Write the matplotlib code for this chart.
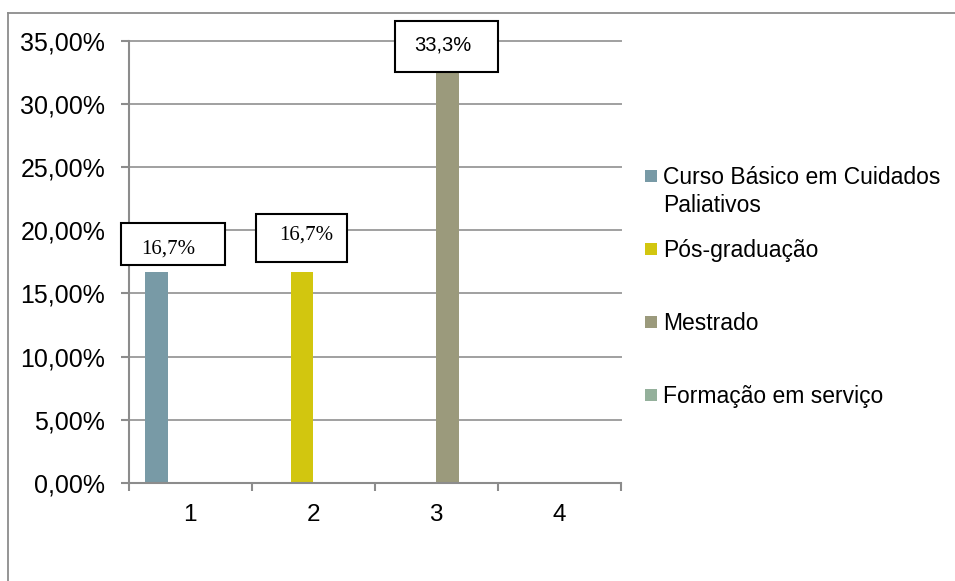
import matplotlib
matplotlib.use("Agg")
import matplotlib.pyplot as plt
import numpy as np
from matplotlib.lines import Line2D
from matplotlib.patches import Rectangle
from matplotlib.path import Path
from matplotlib.ticker import FixedLocator, FuncFormatter

# valores (%) por série, um por categoria
categorias = ["1", "2", "3", "4"]
curso_basico = [16.7, 0, 0, 0]
pos_graduacao = [0, 16.7, 0, 0]
mestrado = [0, 0, 33.3, 0]
formacao_servico = [0, 0, 0, 0]

series_nomes = [
    "Curso Básico em Cuidados\nPaliativos",
    "Pós-graduação",
    "Mestrado",
    "Formação em serviço",
]
series_valores = [curso_basico, pos_graduacao, mestrado, formacao_servico]
cores = ["#789aa6", "#d2c60f", "#9b9a7c", "#94b09b"]

W, H = 955, 581


def fx(x):
    return x / W


def fy(y):
    return 1 - y / H


def caixa(w, h, sx=0, sy=0):
    # moldura de tamanho fixo (px) em volta do rótulo
    def estilo(x0, y0, width, height, mutation_size):
        cx = x0 + width / 2 + sx
        cy = y0 + height / 2 + sy
        v = [(cx - w / 2, cy - h / 2), (cx + w / 2, cy - h / 2),
             (cx + w / 2, cy + h / 2), (cx - w / 2, cy + h / 2),
             (cx - w / 2, cy - h / 2)]
        return Path(v, closed=True)
    return estilo


# posição dos rótulos de dados: deslocamento do texto e da caixa (px)
rotulos_estilo = [
    dict(family="Liberation Serif", size=15, d=(11.4, 23), box=caixa(104, 42, 5.3, 4.8)),
    dict(family="Liberation Serif", size=15, d=(4.5, 37), box=caixa(91, 48, -4.7, -3.5)),
    dict(family="Liberation Sans", size=14.5, d=(-4.7, 17), box=caixa(103, 51, 4, -1.5)),
    dict(family="Liberation Sans", size=14, d=(0, 20), box=caixa(100, 45)),
]

fig = plt.figure(figsize=(W / 100, H / 100), dpi=100)
ax = fig.add_axes([fx(128.7), fy(482.7), fx(620.7) - fx(128.7), fy(41) - fy(482.7)])

n = len(series_valores)
larg = 1 / (n + 1.5)
x = np.arange(1, len(categorias) + 1)
for i, (vals, cor) in enumerate(zip(series_valores, cores)):
    pos = x + (i - (n - 1) / 2) * larg
    ax.bar(pos, vals, width=larg, color=cor, zorder=2)
    st = rotulos_estilo[i]
    for xp, v in zip(pos, vals):
        if v == 0:
            continue
        ax.annotate(f"{v:.1f}%".replace(".", ","), xy=(xp, v), xycoords="data",
                    xytext=st["d"], textcoords="offset pixels",
                    ha="center", va="center", fontsize=st["size"],
                    family=st["family"], color="black", zorder=5,
                    bbox=dict(boxstyle=st["box"], fc="white", ec="black", lw=1.5))

ax.set_xlim(0.5, len(categorias) + 0.5)
ax.set_ylim(0, 35)

cinza = "#8c8c8c"
for s in ["top", "right"]:
    ax.spines[s].set_visible(False)
for s in ["left", "bottom"]:
    ax.spines[s].set_color(cinza)
    ax.spines[s].set_linewidth(1.5)

ax.yaxis.set_major_locator(FixedLocator(np.arange(0, 36, 5)))
ax.yaxis.set_major_formatter(FuncFormatter(lambda v, p: f"{v:.2f}%".replace(".", ",")))
ax.tick_params(axis="y", length=5.8, width=1.5, color=cinza, pad=11,
               labelsize=18, labelcolor="black")
ax.grid(axis="y", color="#a0a0a0", lw=1.4, zorder=0)
for gl in ax.get_ygridlines():
    gl.set_clip_on(False)
ax.set_axisbelow(True)

# traços do eixo x nos limites das categorias, rótulos no centro
ax.xaxis.set_major_locator(FixedLocator(np.arange(0.5, len(categorias) + 1, 1)))
ax.xaxis.set_minor_locator(FixedLocator(x))
ax.set_xticklabels([], minor=False)
ax.set_xticklabels(categorias, minor=True)
ax.tick_params(axis="x", which="major", length=5.8, width=1.5, color=cinza)
ax.tick_params(axis="x", which="minor", length=0, pad=15, labelsize=17.5,
               labelcolor="black")

for t in ax.get_yticklabels() + ax.get_xticklabels(minor=True):
    t.set_family("Liberation Sans")

# legenda desenhada à mão
for i, (nome, cor) in enumerate(zip(series_nomes, cores)):
    cy = 176 + 73 * i
    fig.add_artist(Rectangle((fx(645), fy(cy + 6)), fx(12), fy(cy - 6) - fy(cy + 6),
                             transform=fig.transFigure, color=cor, lw=0))
    for j, linha in enumerate(nome.split("\n")):
        fig.text(fx(663), fy(cy + 7.5 + 29 * j), linha, fontsize=16.5,
                 family="Liberation Sans", color="black", va="baseline", ha="left")

# moldura externa do gráfico
fig.add_artist(Line2D([fx(8), fx(W)], [fy(12.5), fy(12.5)], transform=fig.transFigure,
                      color=cinza, lw=1.3))
fig.add_artist(Line2D([fx(8), fx(8)], [fy(12.5), fy(H)], transform=fig.transFigure,
                      color=cinza, lw=1.3))

fig.savefig("out.png", dpi=100)
